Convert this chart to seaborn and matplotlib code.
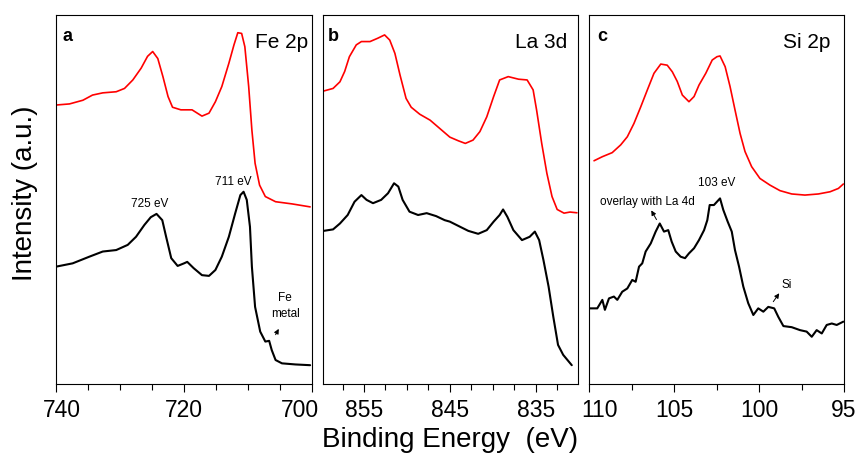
import matplotlib
matplotlib.use("Agg")
import matplotlib.pyplot as plt
import matplotlib.transforms as mtransforms
import pandas as pd
import seaborn as sns

# ---- data (binding energy in eV, intensity in a.u.) ----
fe_red_x = [740, 737.9, 735.8, 734.3, 732.7, 730.6, 729.3, 728.0, 726.7, 725.7, 724.9, 724.1,
            723.3, 722.5, 721.8, 720.5, 718.75, 717.2, 716.1, 715.1, 714.1, 713.0, 712.2,
            711.6, 711.0, 710.5, 709.9, 709.4, 708.9, 708.2, 707.3, 705.7, 703.1, 700.3]
fe_red_y = [75.6, 75.9, 76.9, 78.3, 78.9, 79.2, 80.1, 82.4, 85.6, 88.8, 90.1, 88.2,
            83.3, 77.9, 75.0, 74.3, 74.3, 72.6, 73.4, 76.5, 80.6, 86.9, 91.9,
            95.2, 95.0, 91.4, 80.6, 68.8, 59.8, 53.9, 50.8, 49.4, 48.8, 48.0]
fe_blk_x = [740, 737.4, 734.8, 732.7, 730.6, 728.8, 727.5, 726.2, 725.2, 724.3, 723.4, 722.8,
            722.0, 721.0, 720.0, 719.5, 718.5, 717.2, 716.1, 715.1, 714.1, 713.0, 712.0,
            711.2, 710.7, 710.2, 709.7, 709.4, 708.9, 708.1, 707.3, 706.7, 706.3, 705.7,
            704.7, 702.6, 700.3]
fe_blk_y = [31.8, 32.7, 34.5, 35.9, 36.3, 37.7, 39.9, 43.1, 45.2, 46.1, 44.4, 39.9,
            34.1, 32.0, 32.7, 33.1, 31.4, 29.5, 29.3, 30.9, 34.5, 39.9, 46.3,
            51.2, 52.1, 49.9, 42.6, 31.8, 20.9, 14.2, 11.5, 11.7, 9.2, 6.5,
            5.6, 5.3, 5.1]

la_red_x = [859.7, 858.6, 857.8, 857.25, 856.7, 855.9, 855.3, 854.3, 853.4, 852.6, 852.0,
            851.4, 850.8, 850.1, 849.5, 848.5, 847.3, 846.2, 845.0, 844.0, 843.2, 842.3,
            841.5, 840.7, 839.9, 839.2, 838.2, 837.0, 836.0, 835.3, 834.9, 834.3, 833.7,
            833.1, 832.5, 831.7, 831.0, 830.2]
la_red_y = [79.4, 80.1, 81.9, 84.7, 88.7, 91.9, 92.8, 92.8, 93.7, 94.6, 93.2,
            89.6, 83.7, 77.4, 75.0, 73.1, 71.5, 69.3, 66.9, 65.9, 65.2, 66.1,
            68.4, 72.4, 77.9, 82.4, 83.3, 82.6, 82.4, 79.7, 74.3, 65.2, 57.1,
            50.8, 47.3, 46.3, 46.6, 46.4]
la_blk_x = [859.7, 858.6, 857.8, 856.9, 856.1, 855.3, 854.7, 853.95, 853.0, 852.2, 851.5,
            851.0, 850.5, 849.7, 848.7, 847.7, 846.6, 845.6, 845.0, 843.8, 842.85, 841.7,
            840.7, 839.9, 839.2, 838.8, 838.3, 837.6, 836.6, 835.7, 835.1, 834.6, 834.1,
            833.5, 832.95, 832.4, 831.8, 830.8]
la_blk_y = [41.5, 41.9, 43.5, 45.8, 49.4, 51.2, 49.9, 49.0, 49.9, 51.7, 54.4,
            53.5, 49.9, 46.7, 45.8, 46.3, 45.5, 44.4, 44.0, 42.6, 41.5, 40.7,
            41.7, 44.0, 45.8, 47.3, 45.3, 41.7, 39.0, 39.9, 41.3, 39.0, 33.6,
            26.4, 18.2, 10.6, 7.9, 5.1]

si_red_x = [109.72, 109.23, 108.65, 108.15, 107.76, 107.37, 106.97, 106.58, 106.19, 105.79,
            105.41, 105.11, 104.82, 104.52, 104.13, 103.83, 103.54, 103.14, 102.76, 102.48,
            102.3, 102.0, 101.71, 101.42, 101.12, 100.83, 100.44, 99.95, 99.36, 98.77,
            98.08, 97.30, 96.51, 95.82, 95.33, 95.04]
si_red_y = [60.5, 61.6, 62.7, 64.8, 67.0, 70.6, 75.1, 79.7, 84.2, 86.7,
            86.4, 84.6, 82.0, 78.3, 76.5, 77.9, 81.0, 84.2, 87.8, 88.7,
            88.9, 86.0, 80.6, 74.3, 67.9, 63.0, 58.9, 55.7, 53.9, 52.4,
            51.5, 51.2, 51.5, 52.1, 53.0, 54.2]
si_blk_x = [110.0, 109.53, 109.23, 109.08, 108.84, 108.55, 108.35, 108.06, 107.76, 107.47,
            107.27, 107.07, 106.88, 106.68, 106.38, 106.09, 105.85, 105.6, 105.35, 105.15,
            104.91, 104.62, 104.36, 104.13, 103.83, 103.54, 103.24, 103.05, 102.91, 102.66,
            102.3, 102.11, 101.85, 101.61, 101.42, 101.18, 100.93, 100.64, 100.34, 100.05,
            99.75, 99.46, 99.11, 98.87, 98.57, 98.08, 97.59, 97.20, 96.90, 96.61,
            96.31, 96.02, 95.72, 95.43, 95.04]
si_blk_y = [20.5, 20.5, 22.8, 20.1, 23.2, 23.7, 22.8, 25.0, 25.9, 28.2,
            27.7, 31.8, 32.7, 35.9, 38.1, 41.3, 43.5, 41.3, 41.7, 38.6,
            35.9, 34.5, 34.1, 35.4, 36.8, 39.0, 41.7, 44.4, 48.5, 48.5,
            50.3, 47.2, 44.0, 41.3, 36.3, 31.8, 26.4, 21.9, 18.7, 20.5,
            19.6, 20.9, 20.5, 18.2, 15.7, 15.4, 14.6, 14.2, 12.8, 14.6,
            13.7, 16.0, 16.4, 16.0, 16.9]

panel_letters = ["a", "b", "c"]
panel_titles = ["Fe 2p", "La 3d", "Si 2p"]
xlims = [(740, 700), (859.74, 830.07), (110, 95)]
major_ticks = [[740, 720, 700], [855, 845, 835], [110, 105, 100, 95]]
minor_ticks = [[735, 730, 725, 715, 710, 705],
               [857.5, 852.5, 850, 847.5, 842.5, 840, 837.5, 832.5],
               [107.5, 102.5, 97.5]]
# edge labels are nudged inward in the original (pixels)
label_nudge = [[6, 0, -12], [0, 0, 0], [10, 0, 0, 0]]

sns.set_style("ticks")
plt.rcParams["font.family"] = ["Liberation Sans", "DejaVu Sans"]
plt.rcParams["text.color"] = "black"
plt.rcParams["xtick.color"] = "black"
plt.rcParams["axes.edgecolor"] = "black"

fig = plt.figure(figsize=(8.58, 4.53), dpi=100)
ax_pos = [[0.0653, 0.1523, 0.2984, 0.8146],
          [0.3768, 0.1523, 0.2969, 0.8146],
          [0.6868, 0.1523, 0.2969, 0.8146]]
axes = [fig.add_axes(p) for p in ax_pos]

curves = [(fe_red_x, fe_red_y, fe_blk_x, fe_blk_y),
          (la_red_x, la_red_y, la_blk_x, la_blk_y),
          (si_red_x, si_red_y, si_blk_x, si_blk_y)]
letter_x = [0.027, 0.018, 0.03]
title_x = [0.984, 0.957, 0.945]

for i, ax in enumerate(axes):
    rx, ry, bx, by = curves[i]
    red = pd.DataFrame({"BE": rx, "I": ry})
    blk = pd.DataFrame({"BE": bx, "I": by})
    sns.lineplot(data=red, x="BE", y="I", ax=ax, color="#ff0000", linewidth=1.2,
                 sort=False, estimator=None)
    sns.lineplot(data=blk, x="BE", y="I", ax=ax, color="black", linewidth=1.5,
                 sort=False, estimator=None)
    ax.set_xlim(*xlims[i])
    ax.set_ylim(0, 100)
    ax.set_xlabel("")
    ax.set_ylabel("")
    ax.set_yticks([])
    ax.set_xticks(major_ticks[i])
    ax.set_xticklabels([str(t) for t in major_ticks[i]])
    ax.set_xticks(minor_ticks[i], minor=True)
    ax.tick_params(axis="x", which="major", length=6, width=0.8, labelsize=16.5, pad=5,
                   colors="black")
    ax.tick_params(axis="x", which="minor", length=4, width=0.8, colors="black")
    for lab, dx in zip(ax.get_xticklabels(), label_nudge[i]):
        if dx:
            off = mtransforms.ScaledTranslation(dx / 100, 0, fig.dpi_scale_trans)
            lab.set_transform(lab.get_transform() + off)
    for s in ax.spines.values():
        s.set_visible(True)
        s.set_linewidth(0.8)
        s.set_color("black")
    ax.text(letter_x[i], 0.943, panel_letters[i], transform=ax.transAxes, fontsize=13,
            fontweight="bold", ha="left", va="center")
    ax.text(title_x[i], 0.926, panel_titles[i], transform=ax.transAxes, fontsize=15,
            ha="right", va="center")

# annotations
ax = axes[0]
ax.text(725.3, 48.8, "725 eV", fontsize=8.5, ha="center", va="center")
ax.text(712.3, 54.7, "711 eV", fontsize=8.5, ha="center", va="center")
ax.text(704.2, 21.1, "Fe\nmetal", fontsize=8.5, ha="center", va="center", linespacing=1.4)
ax.annotate("", xy=(705.0, 15.6), xytext=(705.9, 12.7),
            arrowprops=dict(arrowstyle="-|>", color="black", lw=0.7, mutation_scale=7))

ax = axes[2]
ax.text(102.5, 54.5, "103 eV", fontsize=8.5, ha="center", va="center")
ax.text(106.6, 49.3, "overlay with La 4d", fontsize=8.5, ha="center", va="center")
ax.annotate("", xy=(106.43, 47.7), xytext=(105.96, 43.9),
            arrowprops=dict(arrowstyle="-|>", color="black", lw=0.7, mutation_scale=7))
ax.text(98.4, 26.8, "Si", fontsize=8.5, ha="center", va="center")
ax.annotate("", xy=(98.72, 25.2), xytext=(99.26, 21.7),
            arrowprops=dict(arrowstyle="-|>", color="black", lw=0.7, mutation_scale=7))

fig.text(0.029, 0.574, "Intensity (a.u.)", rotation=90, fontsize=20, ha="center", va="center")
fig.text(0.525, 0.058, "Binding Energy  (eV)", fontsize=20, ha="center", va="top")

fig.savefig("out.png", dpi=100)
